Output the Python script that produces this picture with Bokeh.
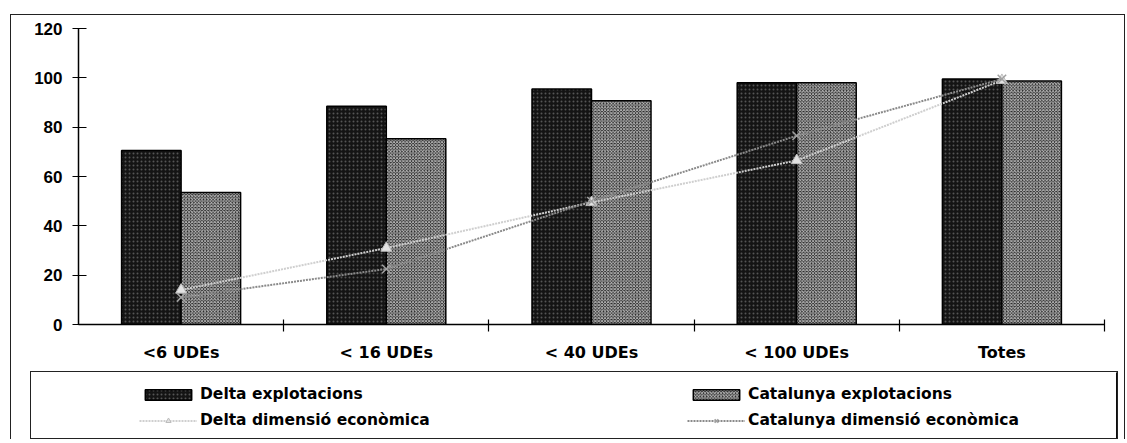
from bokeh.plotting import figure
from bokeh.layouts import column
from bokeh.models import Range1d, FixedTicker, Legend, LegendItem, ColumnDataSource
from bokeh.embed import file_html
from bokeh.resources import INLINE

categories = ["<6 UDEs", "< 16 UDEs", "< 40 UDEs", "< 100 UDEs", "Totes"]
delta_explotacions = [70.5, 88.5, 95.5, 98.0, 99.5]
catalunya_explotacions = [53.5, 75.3, 90.7, 98.0, 98.7]
delta_dimensio = [14.0, 31.0, 49.5, 66.5, 99.0]
catalunya_dimensio = [11.0, 22.5, 50.0, 76.5, 99.5]
y_ticks = [0, 20, 40, 60, 80, 100, 120]

FONT = "DejaVu Sans"
centers = [i + 0.5 for i in range(len(categories))]
bar_w = 0.29
src = ColumnDataSource(dict(
    xd=[c - bar_w / 2 for c in centers],
    xc=[c + bar_w / 2 for c in centers],
    x=centers,
    de=delta_explotacions, ce=catalunya_explotacions,
    dd=delta_dimensio, cd=catalunya_dimensio,
))

DELTA_BAR = dict(fill_color="#141414", line_color="black", line_width=1.5,
                 hatch_pattern="dot", hatch_color="#555555", hatch_scale=4, hatch_weight=1)
CAT_BAR = dict(fill_color="#222222", line_color="black", line_width=1.5,
               hatch_pattern="diagonal_cross", hatch_color="#c8c8c8", hatch_scale=3.2, hatch_weight=0.9)
DELTA_LINE = dict(line_color="#cfcfcf", line_width=2, line_dash="2 1")
DELTA_MARK = dict(marker="triangle", size=11, fill_color="#e2e2e2", line_color="#bdbdbd")
CAT_LINE = dict(line_color="#8a8a8a", line_width=2, line_dash="2 1")
CAT_MARK = dict(marker="x", size=12, line_color="#a0a0a0", line_width=1.5)

W = 1113
p = figure(width=W, height=353, output_backend="svg", toolbar_location=None,
           x_range=Range1d(0, len(categories)), y_range=Range1d(0, 120),
           min_border_left=67, min_border_right=20, min_border_top=13, min_border_bottom=44)
p.outline_line_color = None
p.xgrid.visible = False
p.ygrid.visible = False

p.vbar(x="xd", top="de", width=bar_w, bottom=0, source=src, **DELTA_BAR)
p.vbar(x="xc", top="ce", width=bar_w, bottom=0, source=src, **CAT_BAR)
p.line(x="x", y="dd", source=src, **DELTA_LINE)
p.scatter(x="x", y="dd", source=src, **DELTA_MARK)
p.line(x="x", y="cd", source=src, **CAT_LINE)
p.scatter(x="x", y="cd", source=src, **CAT_MARK)

p.yaxis.ticker = FixedTicker(ticks=y_ticks)
p.yaxis.major_tick_in = 8
p.yaxis.major_tick_out = 6
p.yaxis.minor_tick_line_color = None
p.yaxis.major_label_standoff = 10
p.yaxis.axis_line_width = 1.5
p.yaxis.major_tick_line_width = 1.2
p.yaxis.major_label_text_font = "Liberation Sans"
p.yaxis.major_label_text_font_size = "17px"
p.yaxis.major_label_text_font_style = "bold"
p.yaxis.major_label_text_color = "black"

p.xaxis.ticker = FixedTicker(ticks=centers, minor_ticks=list(range(1, len(categories) + 1)))
p.xaxis.major_label_overrides = {c: lab for c, lab in zip(centers, categories)}
p.xaxis.major_tick_in = 0
p.xaxis.major_tick_out = 0
p.xaxis.minor_tick_in = 5
p.xaxis.minor_tick_out = 7
p.xaxis.minor_tick_line_width = 1.2
p.xaxis.major_label_standoff = 11
p.xaxis.axis_line_width = 1.5
p.xaxis.major_label_text_font = FONT
p.xaxis.major_label_text_font_size = "16px"
p.xaxis.major_label_text_font_style = "bold"
p.xaxis.major_label_text_color = "black"

# legend panel (its glyphs share the data source but the view range shows none of it)
W2, H2 = 1086, 66
p2 = figure(width=W2, height=H2, output_backend="svg", toolbar_location=None,
            x_range=Range1d(-20, -19), y_range=Range1d(0, 1),
            x_axis_location=None, y_axis_location=None,
            min_border_left=0, min_border_right=0, min_border_top=0, min_border_bottom=0)
p2.grid.visible = False
p2.outline_line_color = None
gd = p2.vbar(x="xd", top="de", width=bar_w, source=src, **DELTA_BAR)
gc = p2.vbar(x="xc", top="ce", width=bar_w, source=src, **CAT_BAR)
gl1 = p2.line(x="x", y="dd", source=src, **DELTA_LINE)
gm1 = p2.scatter(x="x", y="dd", source=src, **DELTA_MARK)
gl2 = p2.line(x="x", y="cd", source=src, **CAT_LINE)
gm2 = p2.scatter(x="x", y="cd", source=src, **CAT_MARK)

legend = Legend(items=[
    LegendItem(label="Delta explotacions", renderers=[gd]),
    LegendItem(label="Delta dimensió econòmica", renderers=[gl1, gm1]),
    LegendItem(label="Catalunya explotacions", renderers=[gc]),
    LegendItem(label="Catalunya dimensió econòmica", renderers=[gl2, gm2]),
], ncols=2, orientation="vertical", location=(108, 8),
    glyph_width=58, glyph_height=13, label_standoff=3, label_width=481, label_height=20,
    spacing=6, padding=0, margin=0, border_line_color=None, background_fill_alpha=0,
    label_text_font=FONT, label_text_font_size="15.5px", label_text_font_style="bold",
    label_text_color="black")
p2.add_layout(legend, "center")

legwrap = column(p2, margin=(3, 0, 0, 19),
                 styles={"border": "1.5px solid #222"})

layout = column(p, legwrap, spacing=0, margin=(14, 0, 0, 10),
                styles={"border-top": "1.5px solid #222", "border-left": "1.5px solid #222",
                        "border-right": "1.5px solid #222"})

open("out.html", "w").write(file_html(layout, INLINE))
